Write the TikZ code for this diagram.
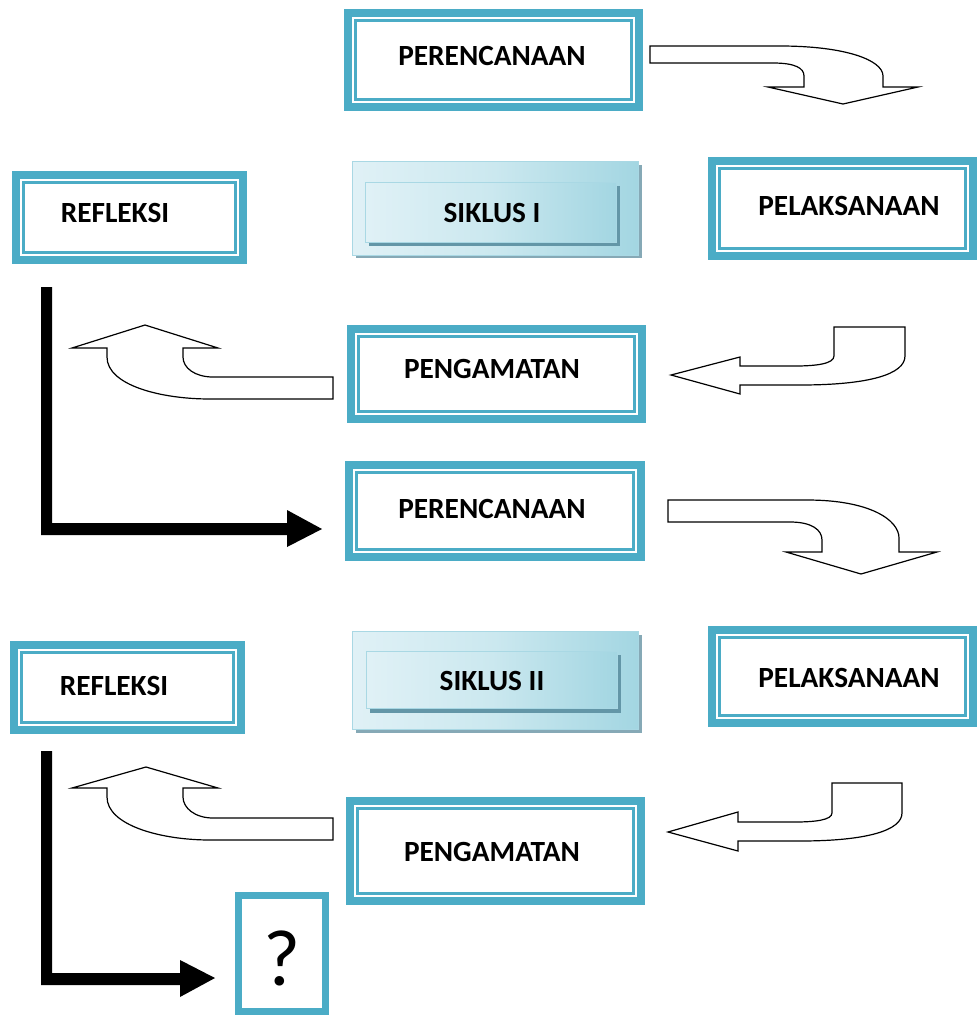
\documentclass[tikz,border=0pt]{standalone}
\usepackage{fontspec}
\setmainfont{Carlito}
\definecolor{frameblue}{HTML}{4BACC6}
\definecolor{panelA}{HTML}{E0F1F6}
\definecolor{panelB}{HTML}{CBE8EF}
\definecolor{panelC}{HTML}{A3D6E2}
\definecolor{panelEdge}{HTML}{A9D8E4}
\definecolor{panelShade}{HTML}{86A9B6}
\definecolor{innerShade}{HTML}{6396A7}

\tikzset{
  frame/.style={draw=frameblue, line width=8.3pt, outer sep=0pt, inner sep=0pt, fill=white},
  inline/.style={draw=frameblue, line width=2.5pt},
  lbl/.style={font=\fontsize{29.3}{33}\selectfont\bfseries, inner sep=0pt},
  qlbl/.style={font=\fontsize{80}{82}\selectfont, inner sep=0pt},
  block/.style={draw=black, line width=1.2pt, fill=white, line join=miter},
  bar/.style={fill=black},
  panel/.style={left color=panelA, right color=panelC, middle color=panelB, draw=panelEdge, line width=1pt},
}

% double framed box: name, centre, width, height (of the thick line's path)
\newcommand\twinbox[4]{%
  \node[frame, minimum width=#3pt, minimum height=#4pt] (#1) at (#2) {};
  \draw[inline] ([shift={(7.15,7.15)}]#1.north west) rectangle ([shift={(-7.15,-7.15)}]#1.south east);
}

\begin{document}
\begin{tikzpicture}[x=1pt,y=-1pt]
\useasboundingbox (0,0) rectangle (977,1018);

% ---------- cycle I ----------
\twinbox{per1}{493.5,60}{290.7}{93.7}
\node[lbl] (tper1) at (492,56) {PERENCANAAN};

\twinbox{ref1}{129.5,217.5}{226.7}{84.7}
\node[lbl] (tref1) at (115,213) {REFLEKSI};

\twinbox{pel1}{842.5,208.5}{260.7}{94.7}
\node[lbl] (tpel1) at (849,206) {PELAKSANAAN};

\twinbox{pen1}{496.5,374}{290.7}{89.7}
\node[lbl] (tpen1) at (492,369) {PENGAMATAN};

% cycle title panel
\fill[panelShade] (356,165) rectangle (642,258);
\draw[panel] (352,161) rectangle (638,255);
\fill[innerShade] (369,186) rectangle (620,246);
\draw[panel] (365,182) rectangle (616,242);
\node[lbl] (sik1) at (492,213) {SIKLUS I};

% curved block arrows of cycle I
\draw[block] (650,46) -- (780,46) .. controls (845,46) and (883,60) .. (883,76)
  -- (883,87) -- (918,87) -- (843,104) -- (768,87) -- (804,87) -- (804,76)
  .. controls (804,68) and (795,63) .. (773,63) -- (650,63) -- cycle;

\draw[block] (905,327) -- (834,327) -- (834,356) .. controls (834,364) and (815,366) .. (795,366)
  -- (740,366) -- (740,357) -- (671,375) -- (740,394) -- (740,385) -- (800,385)
  .. controls (870,385) and (905,374) .. (905,356) -- cycle;

\draw[block] (333,377) -- (213,377) .. controls (195,377) and (183,368) .. (183,357)
  -- (183,348) -- (218,348) -- (145,325) -- (72,348) -- (107,348) -- (107,357)
  .. controls (107,385) and (160,399) .. (210,399) -- (333,399) -- cycle;

\fill[bar] (41,287) -- (52,287) -- (52,523) -- (287,523) -- (287,510) -- (322,529)
  -- (287,547) -- (287,535) -- (41,535) -- cycle;

% ---------- cycle II ----------
\twinbox{per2}{495,511}{291.7}{91.7}
\node[lbl] (tper2) at (492,509) {PERENCANAAN};

\twinbox{ref2}{127.5,687.5}{226.7}{84.7}
\node[lbl] (tref2) at (114,686) {REFLEKSI};

\twinbox{pel2}{842.5,676.5}{260.7}{92.7}
\node[lbl] (tpel2) at (849,678) {PELAKSANAAN};

\twinbox{pen2}{495.5,851}{290.7}{99.7}
\node[lbl] (tpen2) at (492,852) {PENGAMATAN};

\fill[panelShade] (356,635) rectangle (642,733);
\draw[panel] (352,631) rectangle (638,729);
\fill[innerShade] (370,655) rectangle (621,713);
\draw[panel] (366,651) rectangle (617,708);
\node[lbl] (sik2) at (492,681) {SIKLUS II};

\draw[block] (668,500) -- (807,500) .. controls (870,500) and (899,520) .. (899,538)
  -- (899,552) -- (937,552) -- (861,574) -- (786,552) -- (822,552) -- (822,540)
  .. controls (822,530) and (812,522) .. (790,522) -- (668,522) -- cycle;

\draw[block] (902,783) -- (832,783) -- (832,813) .. controls (832,820) and (815,822) .. (795,822)
  -- (738,822) -- (738,812) -- (668,832) -- (738,851) -- (738,841) -- (800,841)
  .. controls (868,841) and (902,830) .. (902,813) -- cycle;

\draw[block] (333,818) -- (213,818) .. controls (195,818) and (183,808) .. (183,797)
  -- (183,788) -- (218,788) -- (146,767) -- (72,788) -- (107,788) -- (107,797)
  .. controls (107,825) and (160,840) .. (210,840) -- (333,840) -- cycle;

\fill[bar] (41,751) -- (52,751) -- (52,973) -- (180,973) -- (180,960) -- (215,978)
  -- (180,997) -- (180,985) -- (41,985) -- cycle;

% next step, still open
\node[frame, line width=7pt, minimum width=87pt, minimum height=116pt] (next) at (282,953.5) {};
\node[qlbl] (tnext) at (282,958) {?};
\end{tikzpicture}
\end{document}
